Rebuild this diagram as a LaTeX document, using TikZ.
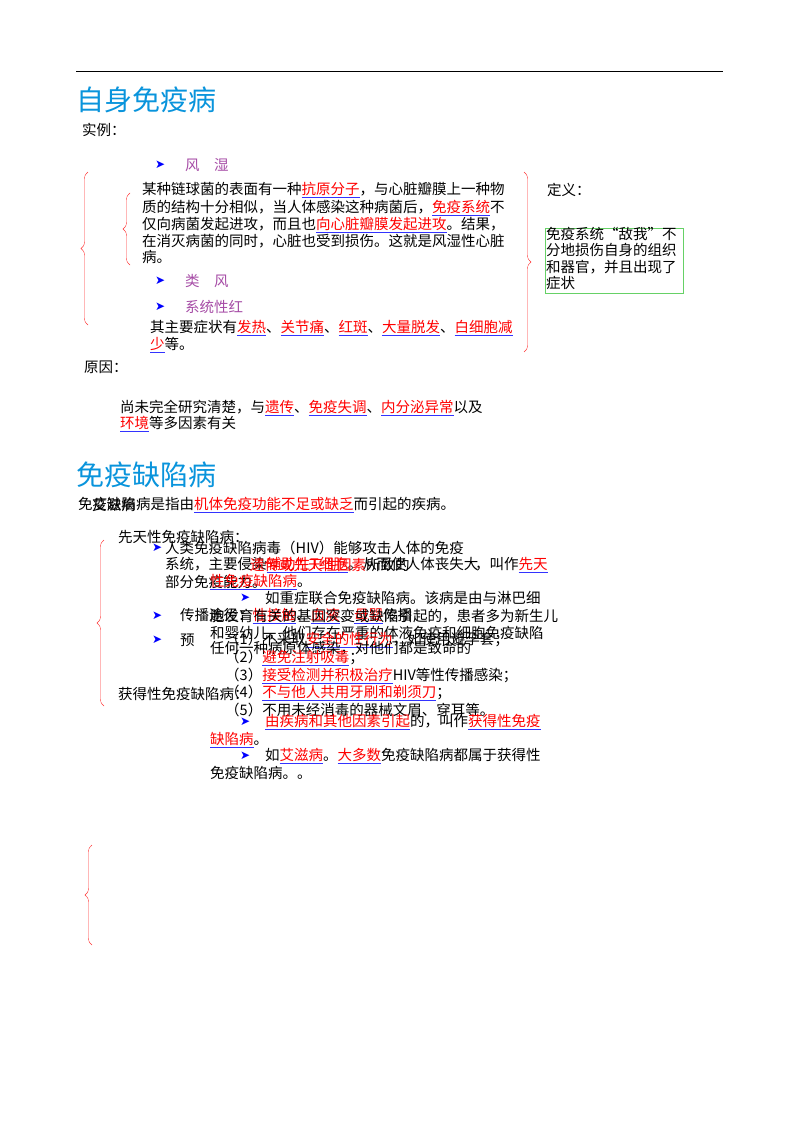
\documentclass[tikz,border=0pt]{standalone}
\usepackage{fontspec}
\setmainfont{Noto Sans CJK SC}
\newfontfamily\sym{DejaVu Sans}
\usetikzlibrary{decorations.pathreplacing}
\newcommand\hl[1]{\textcolor{blue!80}{\underline{\textcolor{red}{#1}}}}
\begin{document}
\begin{tikzpicture}[x=1pt,y=-1pt,
  t/.style={anchor=west,inner sep=0pt,font=\fontsize{14.5}{16}\selectfont},
  pu/.style={t,text=violet!70},
  ar/.style={anchor=west,inner sep=0pt,text=blue,font=\sym\fontsize{12}{14}\selectfont},
  ttl/.style={anchor=west,inner sep=0pt,text=cyan!80!blue,font=\fontsize{28}{30}\selectfont},
  br/.style={draw=red!80,thin,decorate,decoration={brace,amplitude=7pt}}]
\useasboundingbox (0,0) rectangle (800,1132);
\fill[white] (0,0) rectangle (800,1132);
\coordinate (l1) at (76,72); \coordinate (l2) at (723,72);
\draw[line width=1pt] (l1) -- (l2);
\node[ttl] (T1) at (76,100) {自身免疫病};
\node[t] (sl) at (82,130) {实例：};
\node[ar] (a1) at (155,165) {➤}; \node[pu] (b1) at (185,165) {风\quad 湿};
\coordinate (B1a) at (88,325); \coordinate (B1b) at (88,172);
\draw[br] (B1a) -- (B1b);
\coordinate (B2a) at (130,265); \coordinate (B2b) at (130,193);
\draw[br] (B2a) -- (B2b);
\node[t] (p1) at (142,190) {某种链球菌的表面有一种\hl{抗原分子}，与心脏瓣膜上一种物};
\node[t] (p2) at (142,208) {质的结构十分相似，当人体感染这种病菌后，\hl{免疫系统}不};
\node[t] (p3) at (142,225) {仅向病菌发起进攻，而且也\hl{向心脏瓣膜发起进攻}。结果，};
\node[t] (p4) at (142,241) {在消灭病菌的同时，心脏也受到损伤。这就是风湿性心脏};
\node[t] (p5) at (142,257) {病。};
\node[ar] (a2) at (155,281) {➤}; \node[pu] (b2) at (185,281) {类\quad 风};
\node[ar] (a3) at (155,307) {➤}; \node[pu] (b3) at (185,307) {系统性红};
\node[t] (q1) at (150,328) {其主要症状有\hl{发热}、\hl{关节痛}、\hl{红斑}、\hl{大量脱发}、\hl{白细胞减}};
\node[t] (q2) at (150,345) {\hl{少}等。};
\coordinate (B3a) at (524,172); \coordinate (B3b) at (524,352);
\draw[br] (B3a) -- (B3b);
\node[t] (dy) at (547,190) {定义：};
\node[draw=green!70!black!60,thin,minimum width=138pt,minimum height=65pt,anchor=north west,inner sep=0pt] (gb) at (545,228) {};
\node[t,align=left,anchor=north west,font=\fontsize{14.5}{16.5}\selectfont] (gt) at (546,227) {免疫系统“敌我”不\\分地损伤自身的组织\\和器官，并且出现了\\症状};
\node[t] (yy) at (84,367) {原因：};
\node[t] (r1) at (120,408) {尚未完全研究清楚，与\hl{遗传}、\hl{免疫失调}、\hl{内分泌异常}以及};
\node[t] (r2) at (120,424) {\hl{环境}等多因素有关};
\node[ttl] (T2) at (76,475) {免疫缺陷病};
\node[t] (d1) at (78,505) {免疫缺陷病是指由\hl{机体免疫功能不足或缺乏}而引起的疾病。};
\node[t] (d1b) at (92,505) {艾滋病};
\coordinate (B4a) at (104,706); \coordinate (B4b) at (104,540);
\draw[br] (B4a) -- (B4b);
\node[t] (x1) at (118,537) {先天性免疫缺陷病：};
\node[ar] (a4) at (152,548) {➤};
\node[t] (c1) at (165,548) {人类免疫缺陷病毒（HIV）能够攻击人体的免疫};
\node[t] (c2) at (165,565) {系统，主要侵染\hl{辅助性T细胞}。从而使人体丧失大};
\node[t] (c2b) at (250,565) {\textcolor{red}{遗传或先天性因素}所致的};
\node[t] (c2c) at (475,565) {，叫作\hl{先天}};
\node[t] (c3) at (165,582) {部分免疫能力。};
\node[t] (c3b) at (210,582) {\hl{性免疫缺陷病}。};
\node[ar] (a5) at (240,598) {➤};
\node[t] (c4) at (265,598) {如重症联合免疫缺陷病。该病是由与淋巴细};
\node[ar] (a6) at (152,616) {➤};
\node[t] (c5) at (180,616) {传播途径：\hl{性接触}、\hl{血液}、\hl{母婴}传播};
\node[t] (c5b) at (210,616) {胞发育有关的基因突变或缺陷引起的，患者多为新生儿};
\node[t] (c6) at (210,633) {和婴幼儿，他们存在严重的体液免疫和细胞免疫缺陷};
\node[ar] (a7) at (152,640) {➤}; \node[t] (yf) at (180,640) {预};
\node[t] (c7) at (225,640) {（1）不采取\hl{安全的性行为}，如使用避孕套；};
\node[t] (c8) at (210,648) {任何一种病原体感染，对他们都是致命的};
\node[t] (c9) at (225,658) {（2）\hl{避免注射吸毒}；};
\node[t] (c10) at (225,676) {（3）\hl{接受检测并积极治疗}HIV等性传播感染；};
\node[t] (x2) at (118,694) {获得性免疫缺陷病：};
\node[t] (c11) at (225,693) {（4）\hl{不与他人共用牙刷和剃须刀}；};
\node[t] (c12) at (225,710) {（5）不用未经消毒的器械文眉、穿耳等。};
\node[ar] (a8) at (240,722) {➤};
\node[t] (c13) at (265,722) {\hl{由疾病和其他因素引起}的，叫作\hl{获得性免疫}};
\node[t] (c14) at (210,740) {\hl{缺陷病}。};
\node[ar] (a9) at (240,756) {➤};
\node[t] (c15) at (265,756) {如\hl{艾滋病}。\hl{大多数}免疫缺陷病都属于获得性};
\node[t] (c16) at (210,773) {免疫缺陷病。。};
\coordinate (B5a) at (92,945); \coordinate (B5b) at (92,845);
\draw[br] (B5a) -- (B5b);
\end{tikzpicture}
\end{document}
